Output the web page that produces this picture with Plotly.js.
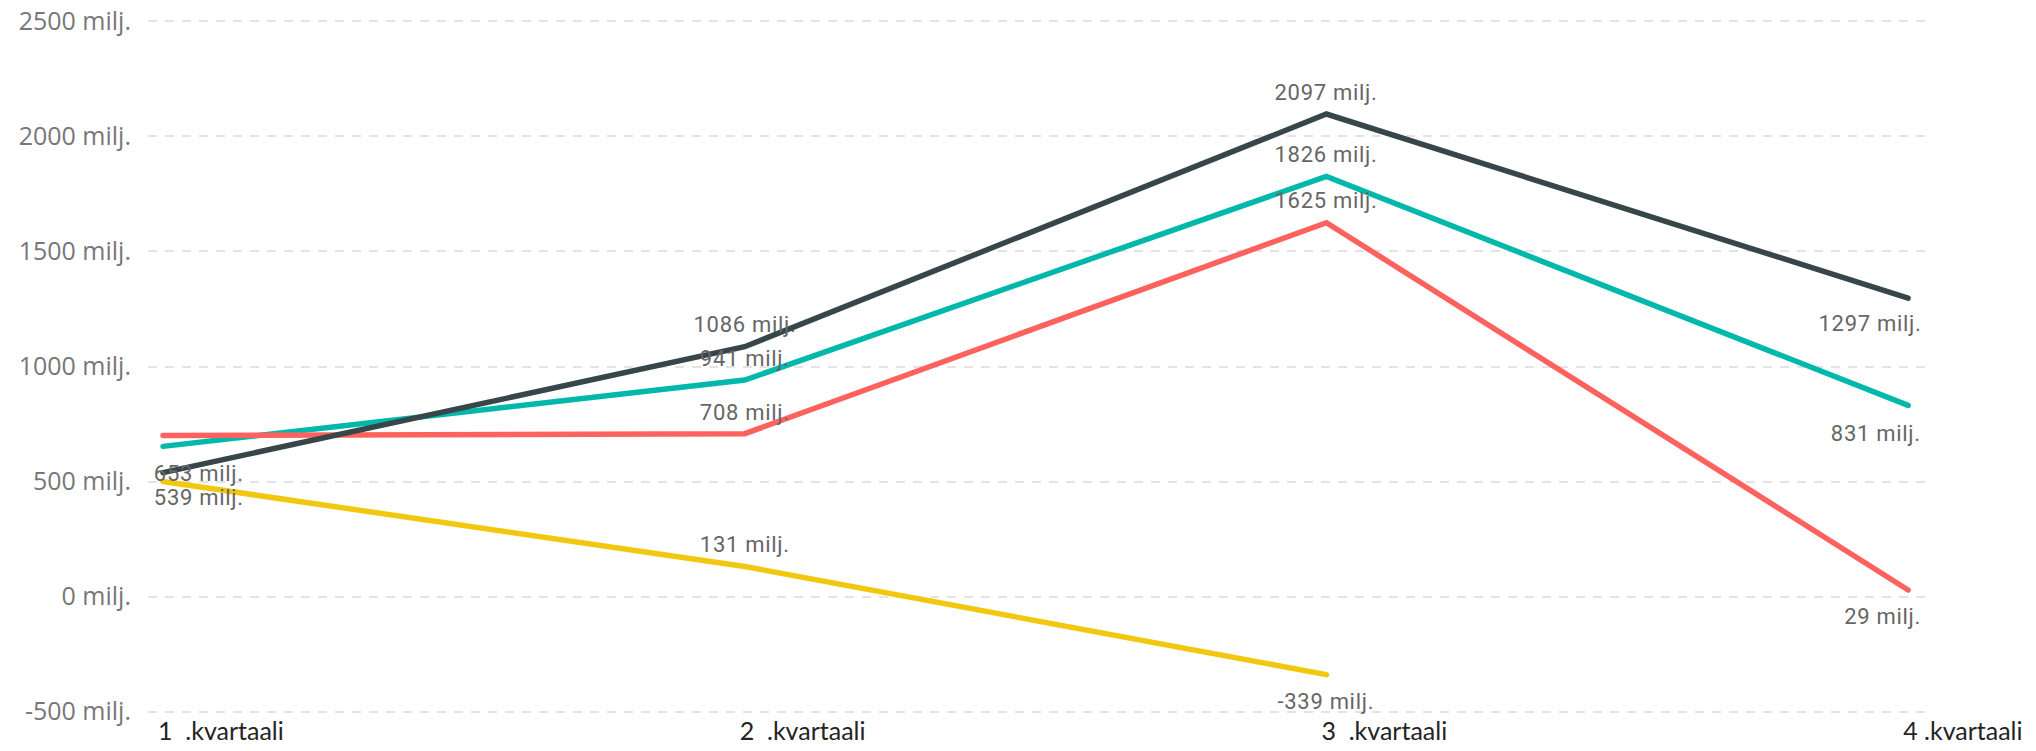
<!DOCTYPE html>
<html>
<head>
<meta charset="utf-8">
<script src="https://cdn.plot.ly/plotly-3.0.1.min.js"></script>
<style>
  html, body { margin: 0; padding: 0; background: #ffffff; }
  #chart { width: 2036px; height: 751px; }
  #chart .scatterlayer path.js-line { stroke-linecap: round; stroke-linejoin: miter; }
  #chart .annotation-text { letter-spacing: 0.7px; }
</style>
</head>
<body>
<div id="chart"></div>
<script>
// ---- data ----
const quarters = ["1\u00a0\u00a0.kvartaali", "2\u00a0\u00a0.kvartaali", "3\u00a0\u00a0.kvartaali", "4\u00a0.kvartaali"];
const seriesTeal   = [653, 941, 1826, 831];
const seriesRed    = [700, 708, 1625, 29];
const seriesDark   = [539, 1086, 2097, 1297];
const seriesYellow = [500, 131, -339, null];
const yTickValues  = [-500, 0, 500, 1000, 1500, 2000, 2500];
const yTickLabels  = ["-500 milj.", "0 milj.", "500 milj.", "1000 milj.", "1500 milj.", "2000 milj.", "2500 milj."];

// ---- styles ----
const colors = { teal: "#01B8AA", red: "#FD625E", dark: "#374649", yellow: "#F2C80F" };

// label placement per point: null = hidden; [dir, anchor, xshift, yshift]
const placeTeal   = [["below", "left", -8, -27], ["above", "center", 0, 22], ["above", "center", 0, 22], ["below", "right", 12, -28]];
const placeRed    = [null, ["above", "center", 0, 21], ["above", "center", 0, 22], ["below", "right", 12, -27]];
const placeDark   = [["below", "left", -8, -25], ["above", "center", 0, 22], ["above", "center", 0, 22], ["below", "right", 12, -25]];
const placeYellow = [null, ["above", "center", 0, 22], ["below", "center", 0, -27], null];

const seriesList = [
  { y: seriesTeal,   color: colors.teal,   place: placeTeal },
  { y: seriesRed,    color: colors.red,    place: placeRed },
  { y: seriesDark,   color: colors.dark,   place: placeDark },
  { y: seriesYellow, color: colors.yellow, place: placeYellow }
];

const traces = seriesList.map(s => ({
  type: "scatter",
  mode: "lines",
  x: quarters,
  y: s.y,
  line: { color: s.color, width: 5.5, shape: "linear" },
  connectgaps: false,
  hoverinfo: "skip",
  showlegend: false
}));

const annotations = [];
seriesList.forEach(s => {
  s.y.forEach((v, i) => {
    const p = s.place[i];
    if (v === null || !p) return;
    annotations.push({
      x: quarters[i], y: v, xref: "x", yref: "y",
      text: v + " milj.",
      showarrow: false,
      xanchor: p[1], yanchor: "middle",
      xshift: p[2], yshift: p[3],
      font: { family: "Roboto, sans-serif", size: 22, color: "#666666" }
    });
  });
});

const layout = {
  width: 2036, height: 751,
  margin: { l: 148, r: 111, t: 19, b: 37, pad: 0 },
  paper_bgcolor: "#ffffff",
  plot_bgcolor: "#ffffff",
  showlegend: false,
  xaxis: {
    type: "category",
    range: [-0.0258, 3.029],
    showgrid: false, zeroline: false, showline: false,
    ticks: "", ticklabelposition: "outside right",
    ticklabelshift: -5,
    tickfont: { family: "Lato, sans-serif", size: 25, color: "#252423" },
    fixedrange: true
  },
  yaxis: {
    range: [-510, 2510],
    tickvals: yTickValues, ticktext: yTickLabels,
    showgrid: true, gridcolor: "#e3e3e3", gridwidth: 2, griddash: "9px,8px",
    zeroline: false, showline: false, ticks: "",
    ticklabelstandoff: 16,
    tickfont: { family: "'Open Sans', sans-serif", size: 25, color: "#777777" },
    fixedrange: true
  },
  annotations: annotations
};

Plotly.newPlot("chart", traces, layout, { displayModeBar: false, staticPlot: true });
</script>
</body>
</html>
